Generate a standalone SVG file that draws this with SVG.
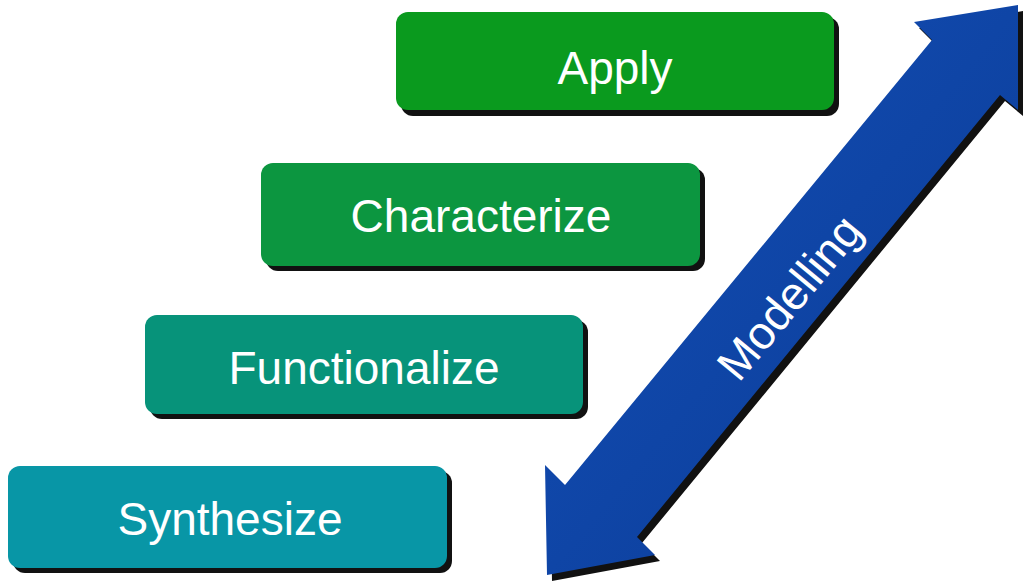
<svg xmlns="http://www.w3.org/2000/svg" width="1023" height="583" viewBox="0 0 1023 583">
<style>
.t{font-family:"Liberation Sans",Arial,sans-serif;font-size:46px;fill:#fff;text-anchor:middle}
.sh{fill:#111}
</style>
<defs>
<linearGradient id="ag" x1="0" y1="0" x2="1" y2="1">
<stop offset="0" stop-color="#1450b8"/><stop offset="1" stop-color="#0a3a94"/>
</linearGradient>
</defs>
<rect width="1023" height="583" fill="#fff"/>
<g id="apply"><rect class="sh" x="401" y="17" width="438" height="99" rx="12"/><rect x="396" y="12" width="438" height="98" rx="12" fill="#0a9a1e"/><text class="t" x="615" y="84">Apply</text></g>
<g id="characterize"><rect class="sh" x="266" y="168" width="439" height="103" rx="12"/><rect x="261" y="163" width="439" height="103" rx="12" fill="#0c9640"/><text class="t" x="481" y="232">Characterize</text></g>
<g id="functionalize"><rect class="sh" x="150" y="320" width="438" height="99" rx="12"/><rect x="145" y="315" width="438" height="99" rx="12" fill="#07937a"/><text class="t" x="364" y="384">Functionalize</text></g>
<g id="synthesize"><rect class="sh" x="13" y="471" width="439" height="102" rx="12"/><rect x="8" y="466" width="439" height="102" rx="12" fill="#0896a6"/><text class="t" x="230" y="535">Synthesize</text></g>
<g id="connectors">
<g id="modelling">
<polygon class="sh" transform="translate(5,6)" points="1018,5 914,22 932,40 565,485 545,465 547,575 655,555 637,537 1000,95 1018,110"/>
<polygon fill="url(#ag)" points="1018,5 914,22 932,40 565,485 545,465 547,575 655,555 637,537 1000,95 1018,110"/>
<text class="t" font-size="44" transform="translate(790,298) rotate(-50.4)" dy="15">Modelling</text>
</g>
</g>
</svg>
